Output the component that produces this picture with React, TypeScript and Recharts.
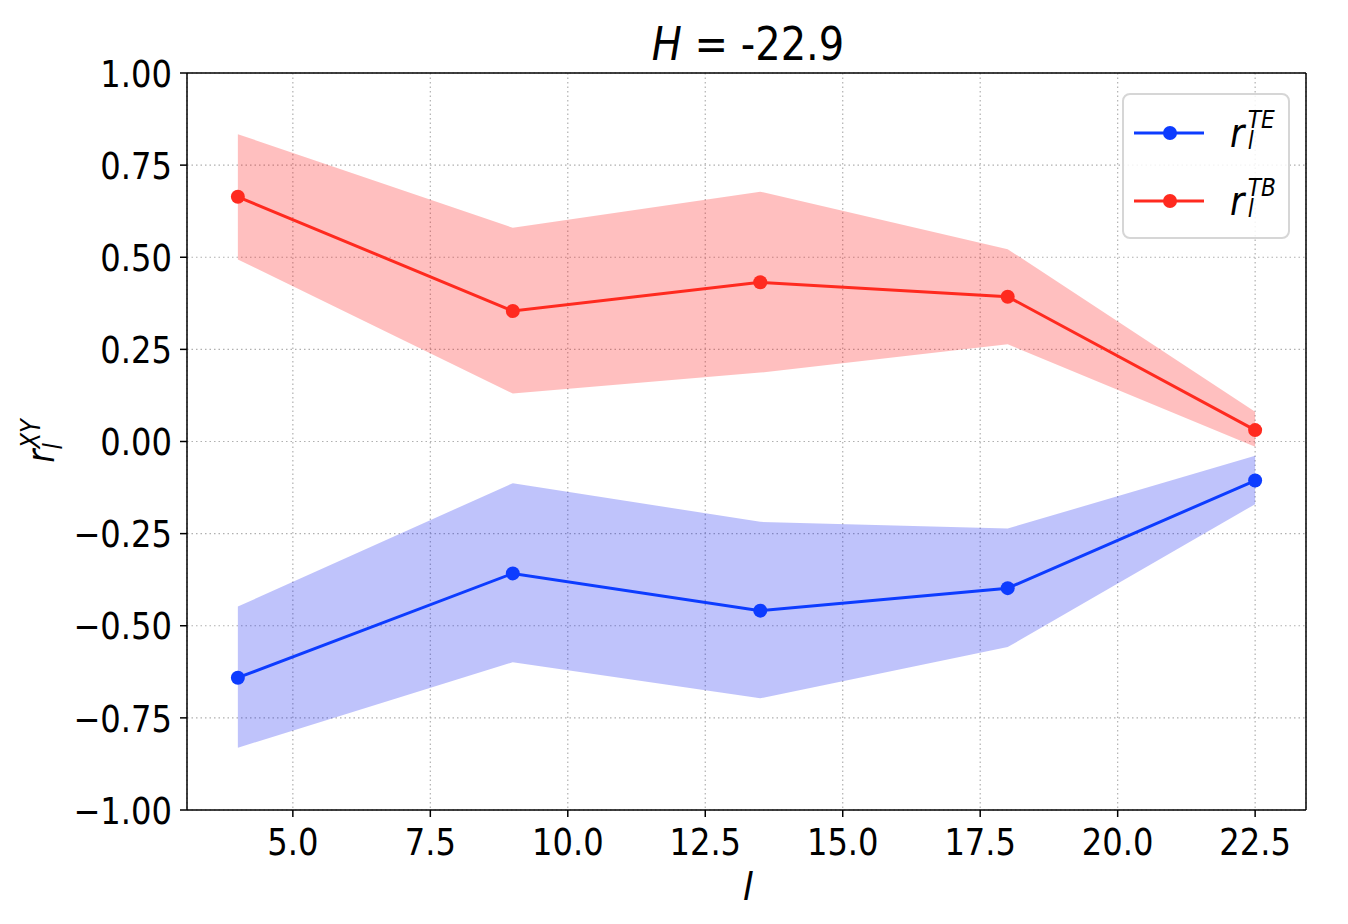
import React from "react";
import {
  ComposedChart,
  Area,
  Line,
  XAxis,
  YAxis,
  CartesianGrid,
  ReferenceLine,
} from "recharts";

// multipole bins and correlation coefficients
const ells = [4, 9, 13.5, 18, 22.5];
const teMean = [-0.641, -0.358, -0.459, -0.398, -0.106];
const teLow = [-0.831, -0.599, -0.697, -0.558, -0.17];
const teHigh = [-0.448, -0.113, -0.218, -0.236, -0.039];
const tbMean = [0.664, 0.354, 0.432, 0.393, 0.031];
const tbLow = [0.494, 0.13, 0.187, 0.264, -0.014];
const tbHigh = [0.834, 0.58, 0.678, 0.522, 0.081];

const xTicks = [5, 7.5, 10, 12.5, 15, 17.5, 20, 22.5];
const yTicks = [-1, -0.75, -0.5, -0.25, 0, 0.25, 0.5, 0.75, 1];

const X_DOMAIN: [number, number] = [3.075, 23.425];
const FONT = "'DejaVu Sans', sans-serif";
const SQUEEZE = 0.87;
const RED = "#ff2a1f";
const BLUE = "#0d3cff";

const data = ells.map((l, i) => ({
  l,
  te: teMean[i],
  teBand: [teLow[i], teHigh[i]],
  tb: tbMean[i],
  tbBand: [tbLow[i], tbHigh[i]],
}));

const fmtMinus = (v: number, digits: number) => {
  const s = Math.abs(v).toFixed(digits);
  return v < 0 ? "\u2212" + s : s;
};

const XTick = (props: any) => {
  const { x, y, payload } = props;
  return (
    <g transform={`translate(${x},${y})`}>
      <text
        transform={`scale(${SQUEEZE},1)`}
        textAnchor="middle"
        dy="0.76em"
        fontSize={37}
        fontFamily={FONT}
        fill="#000"
      >
        {payload.value.toFixed(1)}
      </text>
    </g>
  );
};

const YTick = (props: any) => {
  const { x, y, payload } = props;
  return (
    <g transform={`translate(${x},${y})`}>
      <text
        transform={`scale(${SQUEEZE},1)`}
        textAnchor="end"
        dy="0.37em"
        fontSize={37}
        fontFamily={FONT}
        fill="#000"
      >
        {fmtMinus(payload.value, 2)}
      </text>
    </g>
  );
};

const YLabel = () => (
  <g transform="translate(54,441) rotate(-90)">
    <text
      transform={`scale(${SQUEEZE},1)`}
      textAnchor="middle"
      fontSize={37}
      fontFamily={FONT}
      fontStyle="italic"
      fill="#000"
    >
      <tspan>r</tspan>
      <tspan fontSize={26} dy={8}>l</tspan>
      <tspan fontSize={26} dx={-6} dy={-22}>XY</tspan>
    </text>
  </g>
);

const XLabel = () => (
  <text
    x={748}
    y={900}
    textAnchor="middle"
    fontSize={37}
    fontFamily={FONT}
    fontStyle="italic"
    fill="#000"
  >
    l
  </text>
);

const MathLabel = ({ sup }: { sup: string }) => (
  <span
    style={{
      display: "inline-flex",
      alignItems: "center",
      fontFamily: FONT,
      fontStyle: "italic",
      transform: `scaleX(${SQUEEZE})`,
      transformOrigin: "left center",
    }}
  >
    <span style={{ fontSize: 40, lineHeight: "40px" }}>r</span>
    <span
      style={{
        display: "inline-flex",
        flexDirection: "column",
        fontSize: 25,
        marginLeft: 4,
        marginTop: -6,
      }}
    >
      <span style={{ display: "block", height: 21, lineHeight: "21px" }}>{sup}</span>
      <span style={{ display: "block", height: 21, lineHeight: "21px" }}>l</span>
    </span>
  </span>
);

const LegendBox = () => {
  const items = [
    { color: BLUE, sup: "TE" },
    { color: RED, sup: "TB" },
  ];
  return (
    <div
      style={{
        position: "absolute",
        left: 1122,
        top: 93,
        width: 168,
        height: 146,
        border: "2px solid #d6d6d6",
        borderRadius: 8,
        background: "rgba(255,255,255,0.85)",
        boxSizing: "border-box",
        paddingTop: 4,
      }}
    >
      {items.map((it) => (
        <div
          key={it.sup}
          style={{ display: "flex", alignItems: "center", height: 68, paddingLeft: 10 }}
        >
          <svg width={72} height={20} style={{ flex: "none" }}>
            <line x1={0} y1={10} x2={70} y2={10} stroke={it.color} strokeWidth={3} />
            <circle cx={36} cy={10} r={7} fill={it.color} />
          </svg>
          <span style={{ marginLeft: 24 }}>
            <MathLabel sup={it.sup} />
          </span>
        </div>
      ))}
    </div>
  );
};

export default function App() {
  return (
    <div style={{ position: "absolute", left: 0, top: 0, width: 1348, height: 924, background: "#fff" }}>
      <div
        style={{
          position: "absolute",
          left: 0,
          width: 1348,
          top: 16,
          textAlign: "center",
          fontFamily: FONT,
          fontSize: 46,
          lineHeight: "56px",
          transform: `scaleX(${SQUEEZE})`,
          transformOrigin: "748px center",
          paddingLeft: 148,
          boxSizing: "border-box",
        }}
      >
        <i>H</i> = -22.9
      </div>
      <ComposedChart
        width={1348}
        height={924}
        data={data}
        margin={{ top: 73, right: 42, bottom: 54, left: 87 }}
      >
        <CartesianGrid stroke="#b0b0b0" strokeWidth={1.2} strokeDasharray="1.5 3" />
        <XAxis
          dataKey="l"
          type="number"
          domain={X_DOMAIN}
          ticks={xTicks}
          allowDataOverflow
          height={60}
          tick={<XTick />}
          tickSize={7}
          tickMargin={10}
          stroke="#000"
          strokeWidth={1.5}
          label={{ content: () => <XLabel /> }}
        />
        <YAxis
          type="number"
          domain={[-1, 1]}
          ticks={yTicks}
          width={100}
          tick={<YTick />}
          tickSize={7}
          tickMargin={8}
          stroke="#000"
          strokeWidth={1.5}
          label={{ content: () => <YLabel /> }}
        />
        <ReferenceLine y={1} stroke="#000" strokeWidth={1.5} />
        <ReferenceLine x={X_DOMAIN[1]} stroke="#000" strokeWidth={1.5} />
        <Area
          dataKey="tbBand"
          stroke="none"
          fill="#ff0000"
          fillOpacity={0.25}
          isAnimationActive={false}
          activeDot={false}
        />
        <Area
          dataKey="teBand"
          stroke="none"
          fill="#0010f0"
          fillOpacity={0.25}
          isAnimationActive={false}
          activeDot={false}
        />
        <Line
          dataKey="te"
          stroke={BLUE}
          strokeWidth={3}
          dot={{ r: 7, fill: BLUE, stroke: BLUE, strokeWidth: 0 }}
          isAnimationActive={false}
        />
        <Line
          dataKey="tb"
          stroke={RED}
          strokeWidth={3}
          dot={{ r: 7, fill: RED, stroke: RED, strokeWidth: 0 }}
          isAnimationActive={false}
        />
      </ComposedChart>
      <LegendBox />
    </div>
  );
}
